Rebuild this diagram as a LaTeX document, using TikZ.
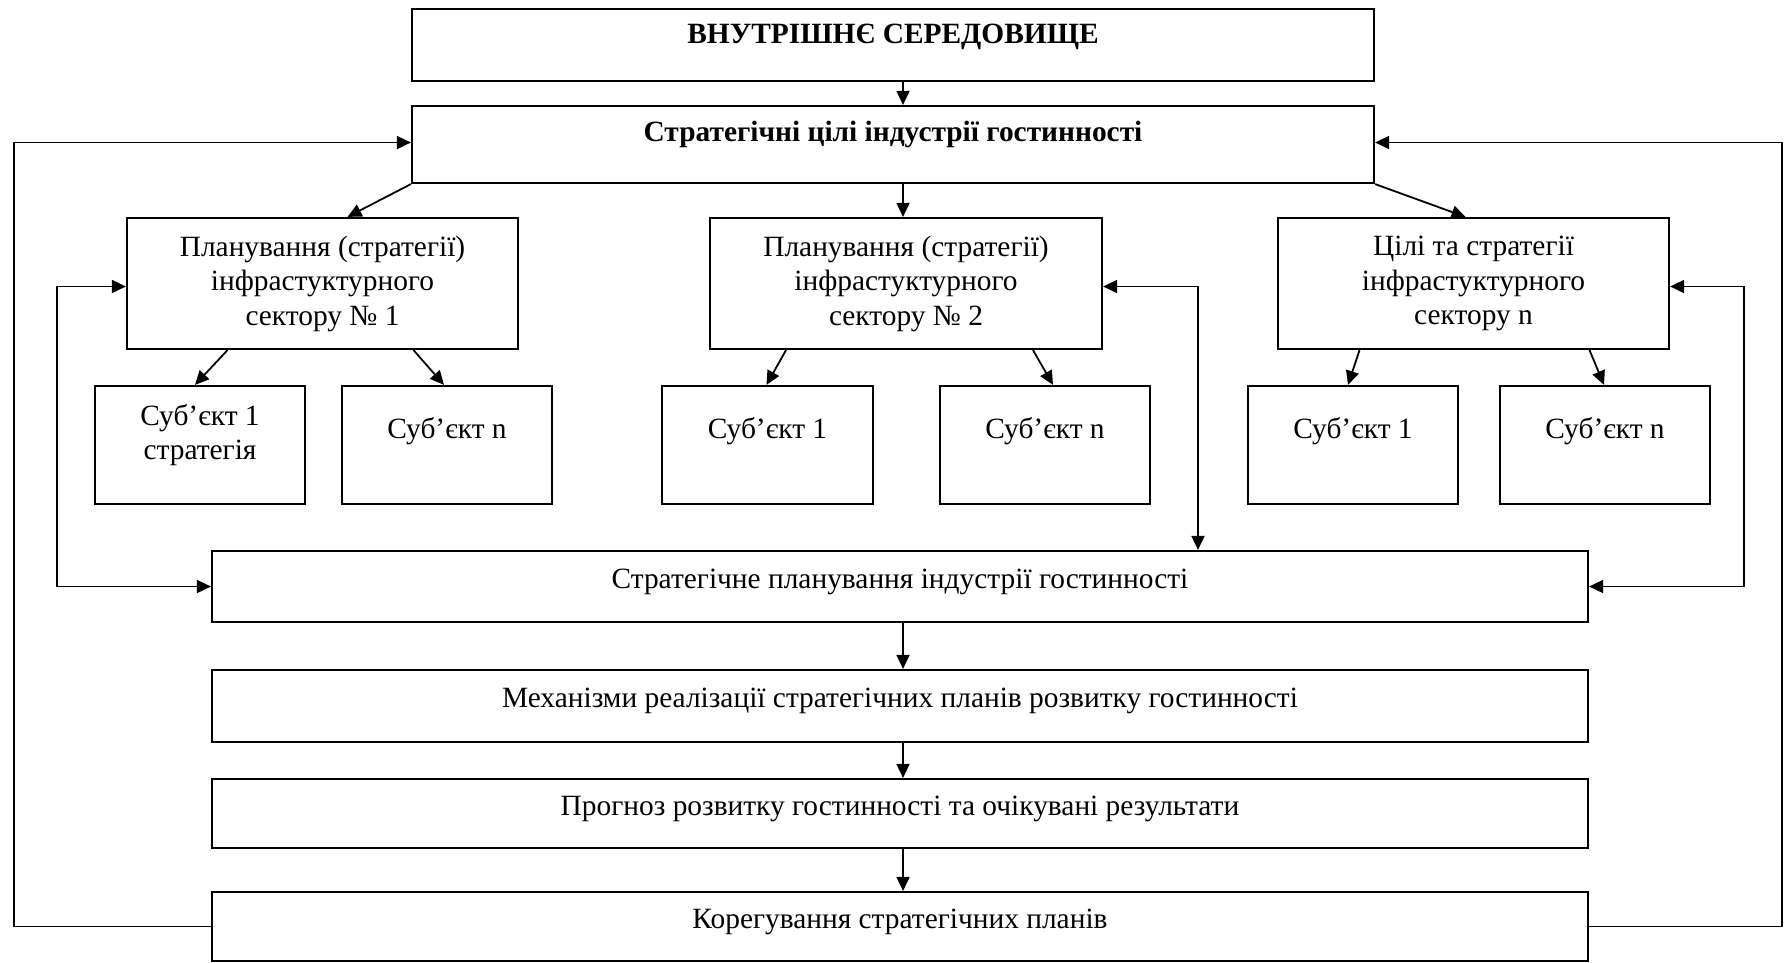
\documentclass[tikz,border=0pt]{standalone}
\usepackage{fontspec}
\setmainfont{Liberation Serif}
\usetikzlibrary{arrows.meta}

\begin{document}
\begin{tikzpicture}[x=1pt,y=-1pt,
    box/.style={draw,line width=2.2pt,align=center,inner sep=0pt,font=\fontsize{29.4}{34.5}\selectfont},
    lift/.style={text depth=#1},
    arr/.style={line width=1.8pt,-{Triangle[length=14pt,width=13pt]}},
    darr/.style={line width=1.8pt,{Triangle[length=14pt,width=13pt]}-{Triangle[length=14pt,width=13pt]}}]
        \useasboundingbox (0,0) rectangle (1785,962);
        % top of the scheme
        \node[box,minimum width=962pt,minimum height=72pt,lift=22pt,font=\fontsize{29.4}{34.5}\selectfont\bfseries] (env) at (893,45) {ВНУТРІШНЄ СЕРЕДОВИЩЕ};
        \node[box,minimum width=962pt,minimum height=77pt,lift=26pt,font=\fontsize{29.4}{34.5}\selectfont\bfseries] (goals) at (893,144.5) {Стратегічні цілі індустрії гостинності};
        % sectors
        \node[box,minimum width=391pt,minimum height=131pt] (sec1) at (322.5,283.5) {Планування (стратегії)\\інфрастуктурного\\сектору № 1};
        \node[box,minimum width=392pt,minimum height=131pt] (sec2) at (906,283.5) {Планування (стратегії)\\інфрастуктурного\\сектору № 2};
        \node[box,minimum width=391pt,minimum height=131pt] (secn) at (1473.5,283.5) {Цілі та стратегії\\інфрастуктурного\\сектору n};
        % subjects of each sector
        \node[box,minimum width=210pt,minimum height=118pt,lift=26pt] (s11) at (200,445) {Суб’єкт 1\\стратегія};
        \node[box,minimum width=210pt,minimum height=118pt,lift=34pt] (s1n) at (447,445) {Суб’єкт n};
        \node[box,minimum width=211pt,minimum height=118pt,lift=34pt] (s21) at (767.5,445) {Суб’єкт 1};
        \node[box,minimum width=210pt,minimum height=118pt,lift=34pt] (s2n) at (1045,445) {Суб’єкт n};
        \node[box,minimum width=210pt,minimum height=118pt,lift=34pt] (sn1) at (1353,445) {Суб’єкт 1};
        \node[box,minimum width=210pt,minimum height=118pt,lift=34pt] (snn) at (1605,445) {Суб’єкт n};
        % lower chain
        \node[box,minimum width=1376pt,minimum height=71pt,lift=16pt] (plan) at (900,586.5) {Стратегічне планування індустрії гостинності};
        \node[box,minimum width=1376pt,minimum height=72pt,lift=16pt] (mech) at (900,706) {Механізми реалізації стратегічних планів розвитку гостинності};
        \node[box,minimum width=1376pt,minimum height=69pt,lift=16pt] (prog) at (900,813.5) {Прогноз розвитку гостинності та очікувані результати};
        \node[box,minimum width=1376pt,minimum height=69pt,lift=16pt] (kor) at (900,926.5) {Корегування стратегічних планів};
        % turning points of the side lines
        \coordinate (lft) at (57,0);
        \coordinate (mid) at (1198,0);
        \coordinate (rgt) at (1744,0);
        \coordinate (fbl) at (14,0);
        \coordinate (fbr) at (1782,0);
        \draw[arr] ([xshift=10pt]env.south) -- ([xshift=10pt]goals.north);
        \draw[arr] (goals.south west) -- ([xshift=25pt]sec1.north);
        \draw[arr] ([xshift=10pt]goals.south) -- ([xshift=10pt]goals.south |- sec2.north);
        \draw[arr] (goals.south east) -- ([xshift=-8pt]secn.north);
        \draw[arr] ([xshift=-95pt]sec1.south) -- ([xshift=-5pt]s11.north);
        \draw[arr] ([xshift=91pt]sec1.south) -- ([xshift=-3pt]s1n.north);
        \draw[arr] ([xshift=-120pt]sec2.south) -- ([xshift=-1pt]s21.north);
        \draw[arr] ([xshift=127pt]sec2.south) -- ([xshift=8pt]s2n.north);
        \draw[arr] ([xshift=-114pt]secn.south) -- ([xshift=-5pt]sn1.north);
        \draw[arr] ([xshift=116pt]secn.south) -- ([xshift=-1pt]snn.north);
        % links of sectors with strategic planning
        \draw[darr] ([yshift=-3pt]sec1.west) -- ([yshift=-3pt]sec1.west -| lft) -- (plan.west -| lft) -- (plan.west);
        \draw[darr] ([yshift=-3pt]sec2.east) -- ([yshift=-3pt]sec2.east -| mid) -- (mid |- plan.north);
        \draw[darr] ([yshift=-3pt]secn.east) -- ([yshift=-3pt]secn.east -| rgt) -- (plan.east -| rgt) -- (plan.east);
        \draw[arr] ([xshift=3pt]plan.south) -- ([xshift=3pt]mech.north);
        \draw[arr] ([xshift=3pt]mech.south) -- ([xshift=3pt]prog.north);
        \draw[arr] ([xshift=3pt]prog.south) -- ([xshift=3pt]kor.north);
        % feedback to the goals
        \draw[arr] (kor.west) -- (kor.west -| fbl) -- ([yshift=2pt]goals.west -| fbl) -- ([yshift=2pt]goals.west);
        \draw[arr] (kor.east) -- (kor.east -| fbr) -- ([yshift=2pt]goals.east -| fbr) -- ([yshift=2pt]goals.east);
    \end{tikzpicture}
\end{document}
